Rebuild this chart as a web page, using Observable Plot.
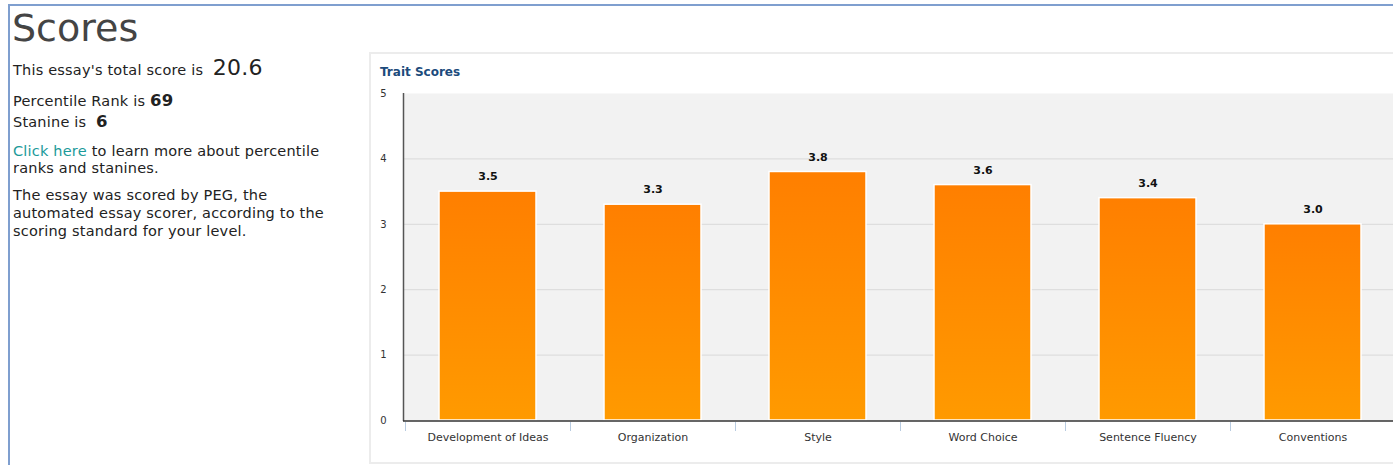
<!DOCTYPE html>
<html>
<head>
<meta charset="utf-8">
<script src="https://cdn.jsdelivr.net/npm/d3@7"></script>
<script src="https://cdn.jsdelivr.net/npm/@observablehq/plot@0.6"></script>
<style>
  html, body { margin: 0; padding: 0; background: #fff; overflow: hidden; width: 1393px; height: 465px; }
  body { font-family: "DejaVu Sans", Verdana, sans-serif; color: #222; position: relative; }
  #frame { position: absolute; left: 8px; top: 4px; width: 1400px; height: 470px; border-left: 2px solid #7f9fcf; border-top: 2px solid #7f9fcf; }
  .t { position: absolute; left: 13px; font-size: 14.5px; letter-spacing: 0.2px; line-height: 17px; white-space: nowrap; }
  #title { position: absolute; left: 12px; top: 6px; font-size: 38px; color: #444; line-height: 44px; }
  #panel { position: absolute; left: 369px; top: 52px; width: 1100px; height: 408px; border: 2px solid #ececec; background: #fff; }
  #ptitle { position: absolute; left: 380px; top: 65px; font-size: 12px; font-weight: bold; color: #1c4b7c; }
  #chart { position: absolute; left: 371px; top: 80px; width: 1036px; line-height: 0; }
  #chart svg { display: block; max-width: none !important; }
  a { color: #1b9a9a; text-decoration: none; }
</style>
</head>
<body>
<div id="frame"></div>
<div id="title">Scores</div>
<div class="t" style="top:59px">This essay's total score is &nbsp;<span id="total" style="font-size:22px"></span></div>
<div class="t" style="top:92px">Percentile Rank is <b id="pr" style="font-size:16.5px"></b></div>
<div class="t" style="top:113px">Stanine is &nbsp;<b id="st" style="font-size:16.5px"></b></div>
<div class="t" style="top:143px"><a>Click here</a> to learn more about percentile<br>ranks and stanines.</div>
<div class="t" style="top:186px; line-height:18px">The essay was scored by PEG, the<br>automated essay scorer, according to the<br>scoring standard for your level.</div>
<div id="panel"></div>
<div id="ptitle">Trait Scores</div>
<div id="chart"></div>
<script>
const traits = ["Development of Ideas", "Organization", "Style", "Word Choice", "Sentence Fluency", "Conventions"];
const scores = [3.5, 3.3, 3.8, 3.6, 3.4, 3.0];
const yTicks = [0, 1, 2, 3, 4, 5];
const gridValues = [1, 2, 3, 4];
const totalScore = "20.6";
const percentileRank = "69";
const stanine = "6";

document.getElementById("total").textContent = totalScore;
document.getElementById("pr").textContent = percentileRank;
document.getElementById("st").textContent = stanine;

const data = traits.map((t, i) => ({trait: t, score: scores[i]}));

const defs = () => {
  const svg = d3.create("svg:defs");
  const g = svg.append("linearGradient").attr("id", "barGrad").attr("x1", 0).attr("y1", 0).attr("x2", 0).attr("y2", 1);
  g.append("stop").attr("offset", "0%").attr("stop-color", "#ff7f00");
  g.append("stop").attr("offset", "100%").attr("stop-color", "#ff9a00");
  return svg.node();
};

const axes = (index, scales, values, dims) => {
  const g = d3.create("svg:g");
  const x = scales.x, y = scales.y;
  const x0 = dims.marginLeft;
  const x1 = dims.width - dims.marginRight;
  const step = x(traits[1]) - x(traits[0]);
  const bw = typeof x.bandwidth === "function" ? x.bandwidth() : x.bandwidth;
  const half = (step - bw) / 2;
  traits.forEach(t => {
    const bx = Math.round(x(t) - half) + 0.5;
    g.append("line").attr("x1", bx).attr("x2", bx)
      .attr("y1", y(0) + 2).attr("y2", y(0) + 11)
      .attr("stroke", "#b8cbe0").attr("stroke-width", 1);
  });
  g.append("line").attr("x1", x0 + 0.5).attr("x2", x0 + 0.5)
    .attr("y1", y(5)).attr("y2", y(0) + 1)
    .attr("stroke", "#555").attr("stroke-width", 1.5);
  g.append("line").attr("x1", x0).attr("x2", x1)
    .attr("y1", y(0) + 1).attr("y2", y(0) + 1)
    .attr("stroke", "#333").attr("stroke-width", 1.5);
  return g.node();
};

const chart = Plot.plot({
  width: 1036,
  height: 380,
  marginLeft: 32,
  marginRight: 10,
  marginTop: 13,
  marginBottom: 40,
  style: {fontFamily: "DejaVu Sans, Verdana, sans-serif", background: "transparent", maxWidth: "none"},
  x: {domain: traits, paddingInner: 0.41, paddingOuter: 0.205, label: null},
  y: {domain: [0, 5], label: null},
  marks: [
    defs,
    Plot.frame({fill: "#f2f2f2", stroke: null}),
    Plot.ruleY(gridValues, {stroke: "#d9d9d9", strokeWidth: 1}),
    Plot.barY(data, {x: "trait", y: "score", fill: "url(#barGrad)", stroke: "#fff", strokeWidth: 1.5}),
    Plot.text(data, {x: "trait", y: "score", text: d => d.score.toFixed(1), dy: -15, fontWeight: "bold", fontSize: 11, fill: "#111"}),
    Plot.axisY({ticks: yTicks, tickSize: 0, tickPadding: 17, tickFormat: d => d, fontSize: 10, color: "#333", label: null}),
    Plot.axisX({tickSize: 0, tickPadding: 13, fontSize: 11, color: "#333", label: null}),
    axes
  ]
});
document.getElementById("chart").appendChild(chart);
</script>
</body>
</html>
